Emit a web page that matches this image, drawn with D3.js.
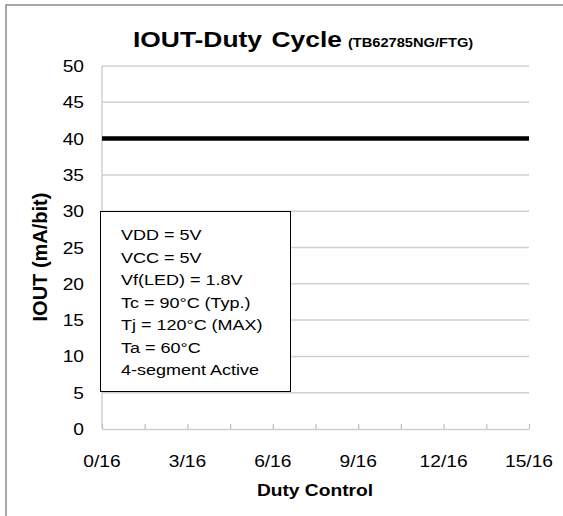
<!DOCTYPE html>
<html>
<head>
<meta charset="utf-8">
<script src="https://cdn.jsdelivr.net/npm/d3@7"></script>
<style>
  body { margin: 0; background: #fff; }
  text { font-family: "Liberation Sans", Arial, sans-serif; fill: #000; }
</style>
</head>
<body>
<svg id="chart" width="563" height="516"></svg>
<script>
// duty steps (n/16) and output current
var duty = [0, 1, 2, 3, 4, 5, 6, 7, 8, 9, 10, 11, 12, 13, 14, 15];
var iout = [40, 40, 40, 40, 40, 40, 40, 40, 40, 40, 40, 40, 40, 40, 40, 40];
var xTicks = [0, 1.5, 3, 4.5, 6, 7.5, 9, 10.5, 12, 13.5, 15];
var xLabels = [0, 3, 6, 9, 12, 15];
var yTicks = [0, 5, 10, 15, 20, 25, 30, 35, 40, 45, 50];
var notes = ["VDD = 5V", "VCC = 5V", "Vf(LED) = 1.8V", "Tc = 90\u00B0C (Typ.)",
             "Tj = 120\u00B0C (MAX)", "Ta = 60\u00B0C", "4-segment Active"];

var svg = d3.select("#chart");
var sx = 1.2; // text in the original is stretched sideways

// outer frame (top + left)
svg.append("path")
  .attr("d", "M6,516 L6,5 L563,5")
  .attr("fill", "none")
  .attr("stroke", "#8a8a8a")
  .attr("stroke-width", 1.5);

var x = d3.scaleLinear().domain([0, 15]).range([102, 529]);
var y = d3.scaleLinear().domain([0, 50]).range([429, 66]);

var grid = "#d0d0d0";

// gridlines
svg.append("g").selectAll("line")
  .data(yTicks.filter(function(d) { return d > 0; }))
  .enter().append("line")
    .attr("x1", x(0)).attr("x2", x(15))
    .attr("y1", function(d) { return y(d); })
    .attr("y2", function(d) { return y(d); })
    .attr("stroke", grid)
    .attr("stroke-width", 1.5);

// y axis line
svg.append("line")
  .attr("x1", x(0)).attr("x2", x(0))
  .attr("y1", y(50)).attr("y2", y(0))
  .attr("stroke", grid).attr("stroke-width", 1.5);

// x axis (ticks pointing up)
var xAxis = svg.append("g")
  .attr("transform", "translate(0," + y(0) + ")")
  .call(d3.axisBottom(x).tickValues(xTicks).tickSizeInner(-5).tickSizeOuter(0).tickFormat(""));
xAxis.select(".domain").attr("stroke", grid).attr("stroke-width", 1.5);
xAxis.selectAll(".tick line").attr("stroke", "#bdbdbd").attr("stroke-width", 1.2);

// y tick labels
svg.append("g").selectAll("text")
  .data(yTicks)
  .enter().append("text")
    .attr("transform", function(d) { return "translate(84," + (y(d) + 6) + ") scale(" + sx + ",1)"; })
    .attr("text-anchor", "end")
    .style("font-size", "16px")
    .text(function(d) { return d; });

// x tick labels
svg.append("g").selectAll("text")
  .data(xLabels)
  .enter().append("text")
    .attr("transform", function(d) { return "translate(" + x(d) + ",467) scale(" + sx + ",1)"; })
    .attr("text-anchor", "middle")
    .style("font-size", "16px")
    .text(function(d) { return d + "/16"; });

// data line
var line = d3.line()
  .x(function(d, i) { return x(duty[i]); })
  .y(function(d) { return y(d); });

svg.append("path")
  .datum(iout)
  .attr("d", line)
  .attr("fill", "none")
  .attr("stroke", "#000")
  .attr("stroke-width", 4.5);

// conditions box
svg.append("rect")
  .attr("x", 100.5).attr("y", 211.5)
  .attr("width", 190).attr("height", 180)
  .attr("fill", "#fff")
  .attr("stroke", "#000")
  .attr("stroke-width", 1);

svg.append("g").selectAll("text")
  .data(notes)
  .enter().append("text")
    .attr("transform", function(d, i) { return "translate(121," + (240 + i * 22.5) + ") scale(" + sx + ",1)"; })
    .style("font-size", "15px")
    .text(function(d) { return d; });

// title
var title = svg.append("text")
  .attr("transform", "translate(133,47) scale(" + sx + ",1)")
  .style("font-weight", "bold");
title.append("tspan").style("font-size", "22px").text("IOUT-Duty");
title.append("tspan").attr("dx", 8).style("font-size", "22px").text("Cycle");
title.append("tspan").attr("dx", 5).style("font-size", "12.2px").text("(TB62785NG/FTG)");

// axis titles
svg.append("text")
  .attr("transform", "translate(315,496) scale(1.13,1)")
  .attr("text-anchor", "middle")
  .style("font-size", "17px")
  .style("font-weight", "bold")
  .text("Duty Control");

svg.append("text")
  .attr("transform", "translate(47,257) rotate(-90)")
  .attr("text-anchor", "middle")
  .style("font-size", "20px")
  .style("font-weight", "bold")
  .text("IOUT (mA/bit)");
</script>
</body>
</html>
